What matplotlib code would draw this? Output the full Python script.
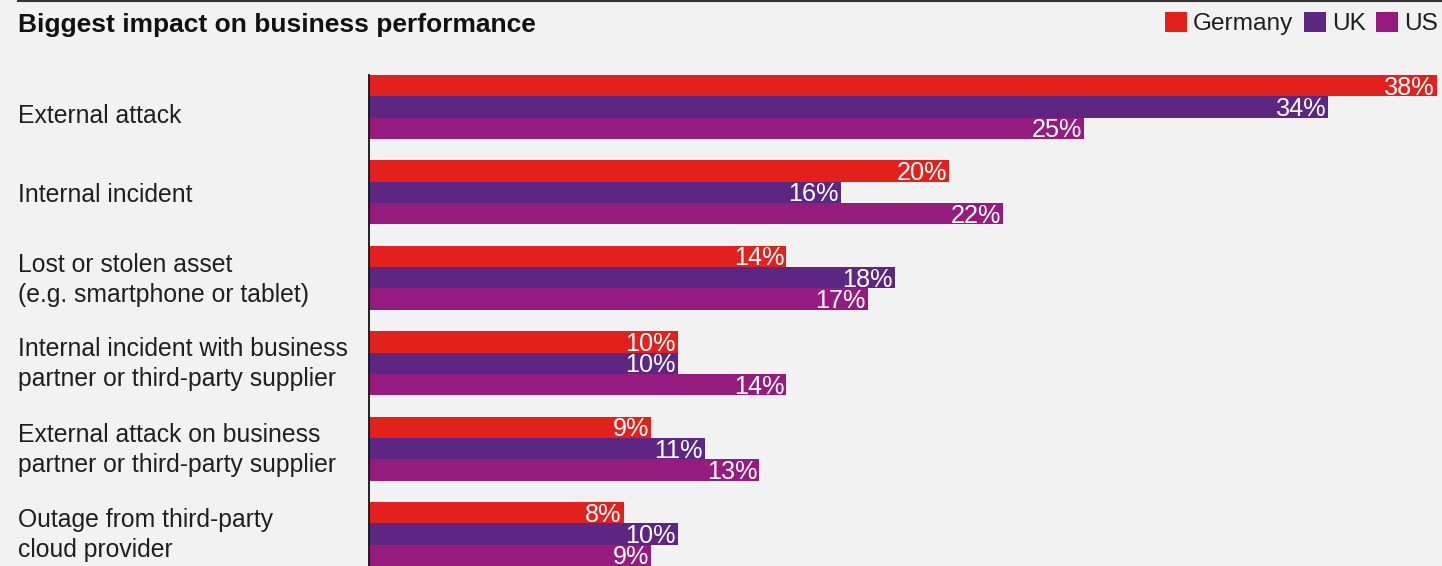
import matplotlib
matplotlib.use("Agg")
import matplotlib.pyplot as plt
import matplotlib.transforms as mtransforms
from matplotlib.patches import Patch
import numpy as np

plt.rcParams['font.family'] = ['Liberation Sans', 'DejaVu Sans']

categories = [
    "External attack",
    "Internal incident",
    "Lost or stolen asset\n(e.g. smartphone or tablet)",
    "Internal incident with business\npartner or third-party supplier",
    "External attack on business\npartner or third-party supplier",
    "Outage from third-party\ncloud provider",
]
series_names = ["Germany", "UK", "US"]
germany = [38, 20, 14, 10, 9, 8]
uk = [34, 16, 18, 10, 11, 10]
us = [25, 22, 17, 14, 13, 9]
colors = ["#E2211C", "#5C2682", "#951B7E"]
title = "Biggest impact on business performance"

BG = "#F2F2F2"
W, H = 1442, 566
fig = plt.figure(figsize=(W / 100, H / 100), dpi=100, facecolor=BG)
ax = fig.add_axes([369 / W, 0, 1 - 369 / W, (566 - 75) / H], facecolor=BG)

XSTART = -1.4
group_step = 4
values = [germany, uk, us]
for si, (vals, col) in enumerate(zip(values, colors)):
    ys = np.arange(len(categories)) * group_step + si + 0.5
    widths = np.array(vals) - XSTART
    ax.barh(ys, widths, left=XSTART, height=1.0, color=col, linewidth=0)
    for y, v in zip(ys, vals):
        ax.annotate(f"{v}%", xy=(v, y + 0.5), xytext=(-1.5, 1.2), textcoords="offset points",
                    ha="right", va="baseline", color="white", fontsize=18.2,
                    annotation_clip=False)

ax.set_xlim(XSTART, XSTART + (W - 369) / 27.1)
ax.set_ylim(23, 0)
for s in ["top", "right", "bottom"]:
    ax.spines[s].set_visible(False)
ax.spines["left"].set_color("#111111")
ax.spines["left"].set_linewidth(1.3)
ax.set_xticks([])
ax.set_yticks([])

trans = mtransforms.blended_transform_factory(fig.transFigure, ax.transData)
label_shift = [0.4, 0.1, 0.1, 0.05, 0.05, 0.05]
for i, cat in enumerate(categories):
    yc = i * group_step + 1.5 + label_shift[i]
    ax.text(18 / W, yc, cat, transform=trans, ha="left", va="center",
            fontsize=17.8, color="#1f1f1f", linespacing=1.3, clip_on=False)

# top rule
fig.add_artist(plt.Line2D([18 / W, 1], [1 - 1 / H, 1 - 1 / H], transform=fig.transFigure,
                          color="#333333", linewidth=1.5))
fig.text(18 / W, 1 - 25 / H, title, ha="left", va="center", fontsize=19,
         fontweight="bold", color="#111111")

handles = [Patch(facecolor=c, edgecolor="none") for c in colors]
fig.legend(handles, series_names, loc="upper right", bbox_to_anchor=(1 + 1 / W, 1 - 7 / H),
           ncol=3, frameon=False, fontsize=17.6, handlelength=0.9, handleheight=0.9,
           handletextpad=0.25, columnspacing=0.42, borderaxespad=0, borderpad=0.2,
           labelcolor="#1f1f1f")

fig.savefig("out.png", dpi=100, facecolor=BG)
